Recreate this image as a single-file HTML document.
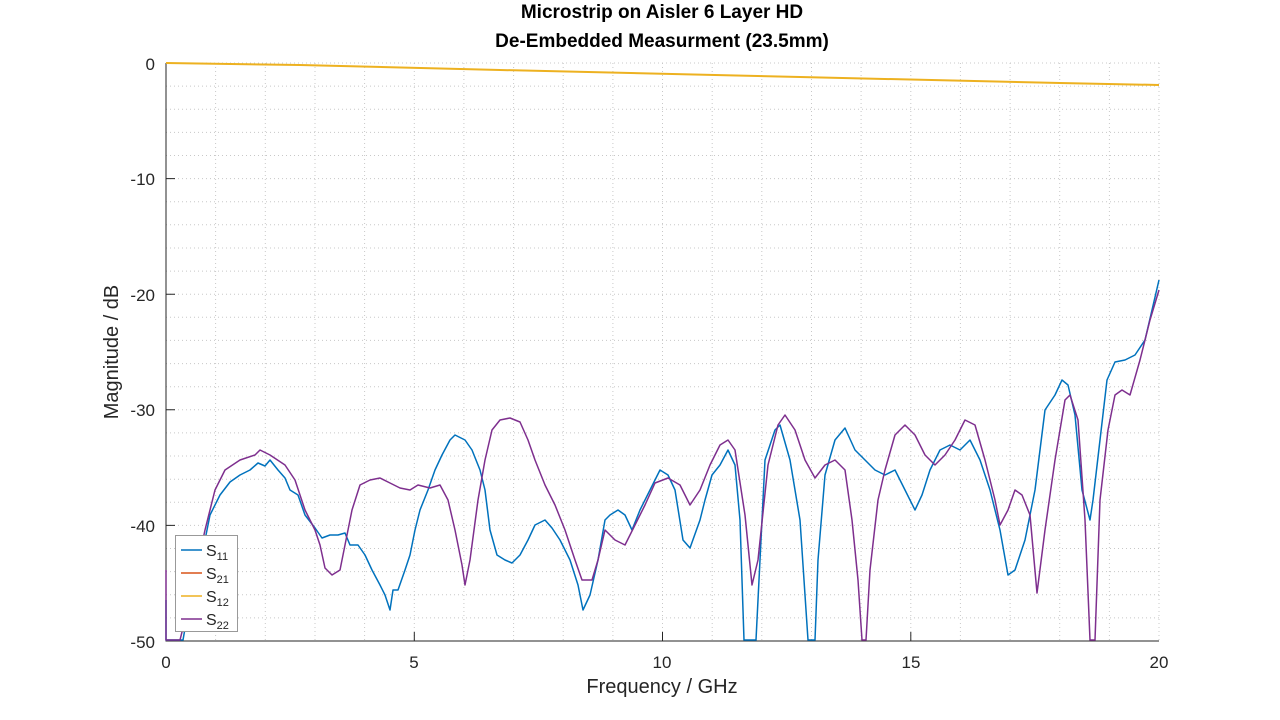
<!DOCTYPE html>
<html><head><meta charset="utf-8"><style>body{margin:0;background:#fff}svg{display:block}text{font-family:"Liberation Sans",sans-serif;fill:#262626}</style></head><body>
<svg width="1280" height="720" viewBox="0 0 1280 720">
<g stroke="#c8c8c8" stroke-dasharray="1,3" stroke-width="1">
<path d="M215.6 63V641M265.3 63V641M315 63V641M364.6 63V641M414.3 63V641M463.9 63V641M513.6 63V641M563.2 63V641M612.9 63V641M662.5 63V641M712.2 63V641M761.8 63V641M811.5 63V641M861.1 63V641M910.8 63V641M960.4 63V641M1010.1 63V641M1059.7 63V641M1109.4 63V641M1159 63V641"/>
<path d="M166 63H1159M166 86.1H1159M166 109.2H1159M166 132.4H1159M166 155.5H1159M166 178.6H1159M166 201.7H1159M166 224.8H1159M166 248H1159M166 271.1H1159M166 294.2H1159M166 317.3H1159M166 340.4H1159M166 363.6H1159M166 386.7H1159M166 409.8H1159M166 432.9H1159M166 456H1159M166 479.2H1159M166 502.3H1159M166 525.4H1159M166 548.5H1159M166 571.6H1159M166 594.8H1159M166 617.9H1159"/>
</g>
<g stroke="#262626" stroke-width="1" fill="none">
<path d="M166 63V641H1159"/>
<path d="M166 178.6h9M166 294.2h9M166 409.8h9M166 525.4h9M414.3 641v-9M662.5 641v-9M910.8 641v-9"/>
</g>
<g font-size="17" text-anchor="end">
<text x="155" y="70">0</text><text x="155" y="185">-10</text><text x="155" y="301">-20</text><text x="155" y="416">-30</text><text x="155" y="532">-40</text><text x="155" y="648">-50</text>
</g>
<g font-size="17" text-anchor="middle">
<text x="166" y="668">0</text><text x="414" y="668">5</text><text x="662" y="668">10</text><text x="911" y="668">15</text><text x="1159" y="668">20</text>
</g>
<text x="662" y="693" font-size="20" text-anchor="middle">Frequency / GHz</text>
<text transform="translate(118,352) rotate(-90)" font-size="20" text-anchor="middle">Magnitude / dB</text>
<text x="662" y="18" font-size="19" font-weight="bold" text-anchor="middle" style="fill:#000">Microstrip on Aisler 6 Layer HD</text>
<text x="662" y="47" font-size="19" font-weight="bold" text-anchor="middle" style="fill:#000">De-Embedded Measurment (23.5mm)</text>
<g fill="none" stroke-width="1.5" stroke-linejoin="round">
<polyline stroke="#EDB120" stroke-width="2" points="166,63 300,65 500,70 800,77 1060,83 1159,85"/>
<polyline stroke="#0072BD" points="166,600 166,640 183,640 190,600 200,560 205,540 210,515 220,495 230,482 240,475 250,470 258,463 265,466 270,460 278,470 285,478 290,490 298,495 305,515 315,528 322,538 330,535 338,535 345,533 350,545 358,545 365,555 372,570 380,585 385,595 390,610 393,590 398,590 405,570 410,555 415,530 420,510 428,490 435,470 442,455 450,440 455,435 465,440 472,450 480,470 485,490 490,530 497,555 505,560 512,563 520,555 528,540 535,525 545,520 552,528 560,540 570,560 578,585 583,610 590,595 598,560 605,520 610,515 618,510 625,515 632,530 640,510 650,490 660,470 668,475 675,490 683,540 690,548 700,520 705,500 712,475 720,465 728,450 735,465 740,520 744,640 756,640 765,460 775,430 780,425 790,460 800,520 808,640 815,640 818,560 825,475 835,440 845,428 855,450 865,460 875,470 885,475 895,470 905,490 915,510 922,495 930,470 940,450 950,445 960,450 970,440 980,460 990,490 1000,530 1008,575 1015,570 1025,540 1035,490 1045,410 1055,395 1062,380 1068,385 1075,415 1082,490 1090,520 1093,500 1100,440 1107,380 1115,362 1125,360 1135,355 1145,340 1152,310 1159,280"/>
<polyline stroke="#7E2F8E" points="166,570 166,640 180,640 190,600 205,530 215,490 225,470 240,460 255,455 260,450 270,455 285,465 295,480 305,510 315,530 320,545 325,568 332,575 340,570 345,545 352,510 360,485 370,480 380,478 390,483 400,488 410,490 418,485 430,488 440,485 448,500 455,530 462,565 465,585 470,560 478,500 485,460 492,430 500,420 510,418 520,422 528,440 535,460 545,485 555,505 565,530 575,560 582,580 592,580 598,560 605,530 615,540 625,545 635,525 645,505 655,483 668,478 680,485 690,505 700,490 710,465 720,445 728,440 735,450 745,515 752,585 758,560 768,465 778,425 785,415 795,430 805,460 815,478 825,465 835,460 845,470 852,520 858,580 862,640 866,640 870,570 878,500 885,470 895,435 905,425 915,435 925,455 935,465 945,455 955,440 965,420 975,425 985,460 995,500 1000,525 1008,510 1015,490 1022,495 1030,515 1037,593 1045,530 1055,460 1065,400 1070,395 1078,420 1085,520 1090,640 1095,640 1100,500 1108,430 1115,395 1122,390 1130,395 1140,360 1150,320 1159,290"/>
</g>
<rect x="175.5" y="535.5" width="62" height="96" fill="#fff" stroke="#999"/>
<g stroke-width="1.5"><path d="M181 550h21" stroke="#0072BD"/><path d="M181 573h21" stroke="#D95319"/><path d="M181 596h21" stroke="#EDB120"/><path d="M181 619h21" stroke="#7E2F8E"/></g>
<g font-size="16"><text x="206" y="556">S<tspan font-size="11" dy="4">11</tspan></text><text x="206" y="579">S<tspan font-size="11" dy="4">21</tspan></text><text x="206" y="602">S<tspan font-size="11" dy="4">12</tspan></text><text x="206" y="625">S<tspan font-size="11" dy="4">22</tspan></text></g>
</svg>
</body></html>
